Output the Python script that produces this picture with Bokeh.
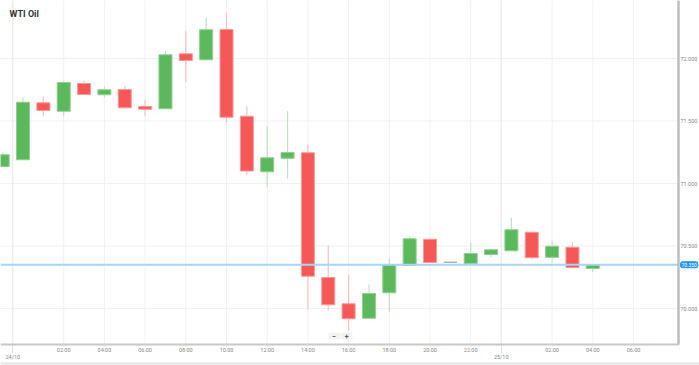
from bokeh.plotting import figure
from bokeh.models import (ColumnDataSource, Range1d, LinearAxis, FixedTicker,
                          Label, NumeralTickFormatter)
from bokeh.core.properties import value
from bokeh.embed import file_html
from bokeh.resources import INLINE

# ---- data: hours since 24/10 00:00 ----
hours = [-1, 0, 1, 2, 3, 4, 5, 6, 7, 8, 9, 10, 11, 12, 13, 14, 15, 16, 17, 18,
         19, 20, 21, 22, 23, 24, 25, 26, 27, 28]
opens = [71.136, 71.19, 71.646, 71.578, 71.80, 71.71, 71.752, 71.616, 71.598, 72.038,
         71.99, 72.232, 71.538, 71.094, 71.202, 71.246, 70.248, 70.038, 69.922, 70.126,
         70.344, 70.554, 70.37, 70.358, 70.432, 70.462, 70.61, 70.41, 70.49, 70.32]
highs = [71.246, 71.686, 71.698, 71.824, 71.824, 71.776, 71.778, 71.67, 72.058, 72.218,
         72.33, 72.37, 71.616, 71.458, 71.578, 71.31, 70.504, 70.272, 70.192, 70.40,
         70.576, 70.556, 70.372, 70.526, 70.47, 70.726, 70.612, 70.546, 70.528, 70.35]
lows = [71.13, 71.19, 71.538, 71.538, 71.708, 71.69, 71.60, 71.538, 71.598, 71.81,
        71.99, 71.49, 71.07, 70.97, 71.04, 69.992, 69.984, 69.824, 69.922, 69.974,
        70.344, 70.366, 70.366, 70.358, 70.41, 70.462, 70.394, 70.368, 70.32, 70.29]
closes = [71.230, 71.65, 71.584, 71.808, 71.712, 71.75, 71.606, 71.594, 72.030, 71.984,
          72.23, 71.53, 71.10, 71.206, 71.248, 70.258, 70.03, 69.918, 70.12, 70.35,
          70.558, 70.368, 70.37, 70.44, 70.47, 70.63, 70.406, 70.498, 70.328, 70.35]

hour_ticks = [2, 4, 6, 8, 10, 12, 14, 16, 18, 20, 22, 26, 28, 30]
hour_labels = ["02:00", "04:00", "06:00", "08:00", "10:00", "12:00", "14:00", "16:00",
               "18:00", "20:00", "22:00", "02:00", "04:00", "06:00"]
day_ticks = [-0.5, 23.5]
day_labels = ["24/10", "25/10"]
price_ticks = [70.0, 70.5, 71.0, 71.5, 72.0]
last_price = 70.35
last_price_label = "70.350"
title_text = "WTI Oil"

GREEN, GREEN_EDGE, GREEN_WICK = "#5cb85c", "#8fd08f", "#bfe3bf"
RED, RED_EDGE, RED_WICK = "#f65858", "#f99a9a", "#f9c0c0"
GRAY = "#aaaaaa"
LABEL_GRAY = "#888888"

fill, edge, wick = [], [], []
for o, c in zip(opens, closes):
    if c > o:
        fill.append(GREEN); edge.append(GREEN_EDGE); wick.append(GREEN_WICK)
    elif c < o:
        fill.append(RED); edge.append(RED_EDGE); wick.append(RED_WICK)
    else:
        fill.append(GRAY); edge.append(GRAY); wick.append(GRAY)

src = ColumnDataSource(dict(
    x=hours, top=[max(o, c) for o, c in zip(opens, closes)],
    bottom=[min(o, c) for o, c in zip(opens, closes)],
    high=highs, low=lows, fill=fill, edge=edge, wick=wick))

# full canvas is the frame; axes sit at fixed data locations
x_start, x_end = -1.106, 33.243
y_start, y_end = 69.544, 72.464
x_axis_pos = 32.21     # where the price axis line sits
y_axis_pos = 69.712    # where the time axis line sits
day_axis_pos = 69.650

p = figure(width=699, height=365, output_backend="svg", toolbar_location=None,
           x_range=Range1d(x_start, x_end), y_range=Range1d(y_start, y_end),
           min_border=0, x_axis_location=None, y_axis_location=None)
p.outline_line_color = None
p.background_fill_color = "white"
p.border_fill_color = "white"
p.xgrid.visible = False
p.ygrid.visible = False

# grid lines (stop at the axes)
p.segment(x0=hour_ticks, x1=hour_ticks, y0=[y_axis_pos] * len(hour_ticks),
          y1=[y_end] * len(hour_ticks), line_color="#f1f1f1", line_width=1)
p.segment(x0=[x_start] * len(price_ticks), x1=[x_axis_pos] * len(price_ticks),
          y0=price_ticks, y1=price_ticks, line_color="#f1f1f1", line_width=1)
p.segment(x0=day_ticks, x1=day_ticks, y0=[y_axis_pos] * len(day_ticks),
          y1=[y_end] * len(day_ticks), line_color="#e4e4e4", line_width=1)

# candles
p.segment(x0="x", x1="x", y0="low", y1="high", source=src, line_color="wick",
          line_width=1.2)
p.vbar(x="x", width=0.64, top="top", bottom="bottom", source=src,
       fill_color="fill", line_color="edge", line_width=1)

# current price line
p.segment(x0=[x_start], x1=[x_axis_pos], y0=[last_price], y1=[last_price],
          line_color="#a6d5f5", line_width=2)

# bottom container border
p.segment(x0=[x_start], x1=[x_end], y0=[69.56], y1=[69.56],
          line_color="#e6e6e6", line_width=2)

# price axis
yax = LinearAxis(ticker=FixedTicker(ticks=price_ticks), fixed_location=x_axis_pos,
                 formatter=NumeralTickFormatter(format="0.000"),
                 bounds=(y_axis_pos, y_end))
yax.axis_line_color = "#bdbdbd"
yax.axis_line_width = 2
yax.major_tick_line_color = None
yax.major_tick_out = 0
yax.major_tick_in = 0
yax.minor_tick_line_color = None
yax.major_label_text_font_size = "5.5px"
yax.major_label_text_color = LABEL_GRAY
yax.major_label_standoff = 2
yax.major_label_text_font = "Roboto"
p.add_layout(yax, "right")
# visible axis line for the price axis
p.segment(x0=[x_axis_pos], x1=[x_axis_pos], y0=[y_axis_pos], y1=[y_end],
          line_color="#bdbdbd", line_width=2)

# time axis
xax = LinearAxis(ticker=FixedTicker(ticks=hour_ticks), fixed_location=y_axis_pos,
                 major_label_overrides={t: l for t, l in zip(hour_ticks, hour_labels)},
                 bounds=(x_start, x_axis_pos))
xax.axis_line_color = "#c8c8c8"
xax.axis_line_width = 2
xax.major_tick_line_color = "#dddddd"
xax.major_tick_out = 2
xax.major_tick_in = 0
xax.minor_tick_line_color = None
xax.major_label_text_font_size = "5.5px"
xax.major_label_text_color = LABEL_GRAY
xax.major_label_standoff = 0
xax.major_label_text_font = "Roboto"
p.add_layout(xax, "below")

# day axis
dax = LinearAxis(ticker=FixedTicker(ticks=day_ticks), fixed_location=day_axis_pos,
                 major_label_overrides={t: l for t, l in zip(day_ticks, day_labels)})
dax.axis_line_color = None
dax.major_tick_line_color = "#bbbbbb"
dax.major_tick_line_dash = "1 1"
dax.major_tick_in = 8
dax.major_tick_out = 0
dax.minor_tick_line_color = None
dax.major_label_text_font_size = "5.5px"
dax.major_label_text_color = LABEL_GRAY
dax.major_label_standoff = 2
dax.major_label_text_font = "Roboto"
p.add_layout(dax, "below")

# zoom buttons
p.quad(left=[15.01, 15.62], right=[15.58, 16.19], top=[69.808, 69.808],
       bottom=[69.752, 69.752], fill_color="#f2f2f2", line_color=None)
p.text(x=[15.295, 15.905], y=[69.78, 69.78], text=["\u2212", "+"],
       text_font=value("Roboto"), text_font_size="7px", text_color="#555555",
       text_align="center", text_baseline="middle", text_font_style="bold")

# title
p.text(x=[-0.663], y=[72.36], text=[title_text], text_font=value("Roboto"),
       text_font_size="9px", text_font_style="bold", text_color="#333333",
       text_align="left", text_baseline="middle")

# price label
p.add_layout(Label(x=x_axis_pos, y=last_price, x_offset=2, text=last_price_label,
                   text_font="Roboto", text_font_size="5px",
                   text_color="white", text_baseline="middle",
                   background_fill_color="#2196f3", border_line_color="#2196f3",
                   padding=1, border_radius=2))

open("out.html", "w").write(file_html(p, INLINE))
